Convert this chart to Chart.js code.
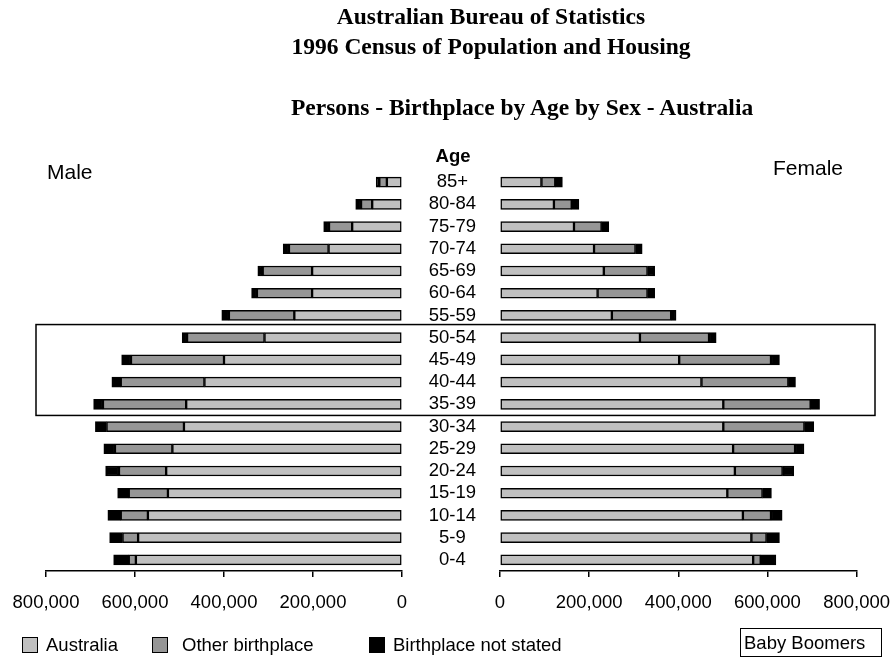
<!DOCTYPE html>
<html><head><meta charset="utf-8">
<script src="https://cdn.jsdelivr.net/npm/chart.js@4.4.0/dist/chart.umd.min.js"></script>
<style>
html,body{margin:0;padding:0;background:#fff;}
#wrap{position:relative;width:895px;height:662px;overflow:hidden;font-family:"Liberation Sans",Arial,sans-serif;color:#000;}
canvas{position:absolute;left:0;top:0;}
.t{position:absolute;white-space:nowrap;line-height:1;}
.title{font-family:"Liberation Serif","Times New Roman",serif;font-weight:bold;font-size:23.5px;left:291px;width:400px;text-align:center;}
.sq{position:absolute;width:14px;height:14px;border:1px solid #000;}
</style></head><body>
<div id="wrap">
<canvas id="male" width="895" height="662"></canvas>
<canvas id="female" width="905" height="662"></canvas>
<div class="t title" style="top:5px">Australian Bureau of Statistics</div>
<div class="t title" style="top:35px">1996 Census of Population and Housing</div>
<div class="t title" style="top:96px">Persons - Birthplace by Age by Sex - Australia</div>
<div class="t" style="left:47px;top:161px;font-size:21px">Male</div>
<div class="t" style="left:773px;top:157px;font-size:21px">Female</div>
<div class="t" style="left:403px;width:100px;text-align:center;top:147px;font-size:18.5px;font-weight:bold">Age</div>
<div id="legend"></div>
<div class="t" style="left:740px;top:628px;width:140px;height:27px;border:1.5px solid #000;"></div>
<div class="t" style="left:744px;top:634px;font-size:18.5px">Baby Boomers</div>
</div>
<script>
const ages = ['85+','80-84','75-79','70-74','65-69','60-64','55-59','50-54','45-49','40-44','35-39','30-34','25-29','20-24','15-19','10-14','5-9','0-4'];
const seriesNames = ['Australia','Other birthplace','Birthplace not stated'];
const seriesColors = ['#c0c0c0','#969696','#000000'];
const maleAustralia = [34000,67000,112000,165000,202000,202000,242000,309000,400000,444000,485000,490000,516000,530000,526000,571000,593000,598000];
const maleOther     = [17000,25000,52000,89000,111000,124000,147000,174000,209000,188000,187000,174000,129000,106000,88000,61000,35000,16000];
const maleNotStated = [7000,12000,12000,13000,11000,12000,16000,11000,21000,20000,21000,25000,25000,30000,25000,29000,29000,34000];
const femaleAustralia = [93000,121000,166000,211000,233000,219000,251000,314000,402000,452000,501000,501000,523000,527000,510000,545000,564000,568000];
const femaleOther     = [31000,40000,62000,93000,98000,112000,133000,155000,206000,195000,196000,182000,139000,107000,79000,63000,34000,17000];
const femaleNotStated = [16000,16000,16000,15000,16000,16000,11000,16000,19000,16000,20000,21000,20000,25000,20000,25000,29000,34000];
const xTicks = [0,200000,400000,600000,800000];
const boomers = ['50-54','45-49','40-44','35-39'];

const FONT = '"Liberation Sans", Arial, sans-serif';

// legend
const legPos = [[22,46],[152,182],[369,393]];
const leg = document.getElementById('legend');
seriesNames.forEach((n,i)=>{
  const s=document.createElement('div');s.className='sq';
  s.style.left=legPos[i][0]+'px';s.style.top='637px';s.style.background=seriesColors[i];
  leg.appendChild(s);
  const t=document.createElement('div');t.className='t';t.textContent=n;
  t.style.left=legPos[i][1]+'px';t.style.top='636px';t.style.fontSize='18.5px';
  leg.appendChild(t);
});

function ds(vals){
  return vals.map((v,i)=>({label:seriesNames[i],data:v,backgroundColor:seriesColors[i],borderColor:'#000',borderWidth:1.5,borderSkipped:false,barThickness:10}));
}

const boxPlugin = {
  id:'boomerBox',
  afterDraw(chart){
    const y=chart.scales.y; const ctx=chart.ctx;
    const i0=ages.indexOf(boomers[0]), i1=ages.indexOf(boomers[boomers.length-1]);
    const step=y.getPixelForValue(1)-y.getPixelForValue(0);
    const top=y.getPixelForValue(i0)-step/2-2, bot=y.getPixelForValue(i1)+step/2;
    ctx.save();ctx.strokeStyle='#000';ctx.lineWidth=1.5;
    ctx.strokeRect(36,top,875-36,bot-top);ctx.restore();
  }
};

function make(id, vals, isMale){
  const yScale = {stacked:true,display:!isMale,
           ticks:{color:'#000',font:{size:18.5,family:FONT},crossAlign:'center',padding:24,autoSkip:false},
           grid:{display:false,drawTicks:false,tickLength:0},border:{display:false}};
  if(!isMale) yScale.afterFit = s=>{s.width=98;};
  return new Chart(document.getElementById(id),{
    type:'bar',
    data:{labels:ages,datasets:ds(vals)},
    plugins: isMale?[]:[boxPlugin],
    options:{
      indexAxis:'y',responsive:false,animation:false,
      plugins:{legend:{display:false},tooltip:{enabled:false}},
      layout:{padding:{left:isMale?46:402,right:isMale?493:47,top:171,bottom:41}},
      scales:{
        x:{stacked:true,reverse:isMale,min:0,max:800000,
           afterBuildTicks:s=>{s.ticks=xTicks.map(v=>({value:v}));},
           ticks:{color:'#000',font:{size:18.5,family:FONT},padding:15,maxRotation:0,autoSkip:false,
                  callback:v=>Number(v).toLocaleString('en-US')},
           grid:{drawOnChartArea:false,drawTicks:true,tickLength:6,color:'#000',lineWidth:1.5},
           border:{display:true,color:'#000',width:1.5},
           afterFit:s=>{s.height=50;}},
        y:yScale
      }
    }
  });
}
make('male',[maleAustralia,maleOther,maleNotStated],true);
make('female',[femaleAustralia,femaleOther,femaleNotStated],false);
</script>
</body></html>
